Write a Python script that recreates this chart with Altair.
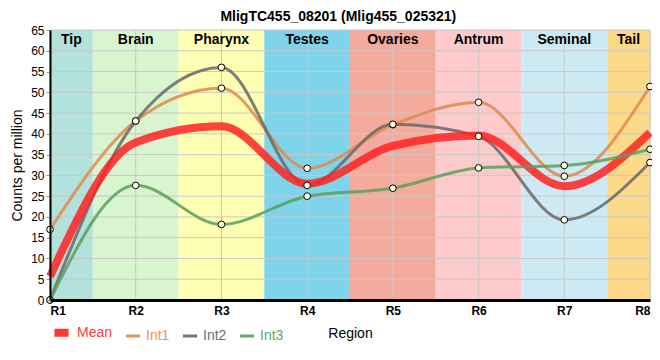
import altair as alt
import pandas as pd

# ---- data ----
positions = [1, 2, 3, 4, 5, 6, 7, 8]
region_labels = ["R1", "R2", "R3", "R4", "R5", "R6", "R7", "R8"]

series_names = ["Int1", "Int2", "Mean", "Int3"]
mean_vals = [5.7, 37.9, 41.8, 28.0, 37.1, 39.6, 27.4, 40.3]
int1_vals = [17.0, 43.1, 51.0, 31.7, 42.2, 47.6, 29.8, 51.4]
int2_vals = [0.0, 43.1, 56.0, 27.6, 42.3, 39.4, 19.3, 33.1]
int3_vals = [0.0, 27.6, 18.2, 25.0, 26.9, 31.8, 32.4, 36.3]

band_names = ["Tip", "Brain", "Pharynx", "Testes", "Ovaries", "Antrum", "Seminal", "Tail"]
band_start = [1.0, 1.5, 2.5, 3.5, 4.5, 5.5, 6.5, 7.5]
band_end = [1.5, 2.5, 3.5, 4.5, 5.5, 6.5, 7.5, 8.0]
band_colors = ["#b3e1dc", "#d9f5d0", "#ffffb3", "#7fd4eb", "#f4ab9d", "#fdcbcb", "#cdeaf4", "#fdd98a"]

y_ticks = [0, 5, 10, 15, 20, 25, 30, 35, 40, 45, 50, 55, 60, 65]

legend_order = ["Mean", "Int1", "Int2", "Int3"]
line_colors = ["#ff2222", "#e0894a", "#686868", "#5aa05a"]
line_widths = [8, 3, 3, 3]

# ---- tables ----
vals = {"Mean": mean_vals, "Int1": int1_vals, "Int2": int2_vals, "Int3": int3_vals}
rows = []
for s in series_names:
    for p, lab, v in zip(positions, region_labels, vals[s]):
        rows.append({"series": s, "pos": p, "region": lab, "value": v})
lines_df = pd.DataFrame(rows)
points_df = lines_df[lines_df["series"] != "Mean"]

bands_df = pd.DataFrame({"name": band_names, "start": band_start, "end": band_end, "color": band_colors})
hgrid_df = pd.DataFrame({"v": y_ticks})
vgrid_df = pd.DataFrame({"p": positions})

xscale = alt.Scale(domain=[1, 8], nice=False, zero=False)
yscale = alt.Scale(domain=[0, 65], nice=False)

x_axis = alt.Axis(values=positions, labelExpr="'R' + datum.value", grid=False,
                  tickSize=0, labelPadding=5, labelFontSize=12, labelFontWeight="bold",
                  labelColor="black", domainColor="black", domainWidth=3,
                  title="Region", titleFontSize=14, titleFontWeight="normal",
                  titlePadding=10, zindex=1, labelFont="Liberation Sans", titleFont="Liberation Sans",
                  labelOverlap=False)
y_axis = alt.Axis(values=y_ticks, grid=False, tickSize=4, tickColor="#999999",
                  labelPadding=2, labelFontSize=12, labelColor="black",
                  domainColor="black", domainWidth=2, labelOverlap=False, labelBound=False,
                  title="Counts per million", titleFontSize=14, titleFontWeight="normal",
                  titlePadding=6, zindex=1, labelFont="Liberation Sans", titleFont="Liberation Sans")

X = lambda f: alt.X(f, scale=xscale, axis=x_axis)
Y = lambda f: alt.Y(f, scale=yscale, axis=y_axis)

bands = alt.Chart(bands_df).mark_rect().encode(
    x=X("start:Q"),
    x2="end:Q",
    y=Y("y0:Q"),
    y2="y1:Q",
    color=alt.Color("color:N", scale=None),
).transform_calculate(y0="0", y1="65")

hgrid = alt.Chart(hgrid_df).mark_rule(color="#c8c8c8", strokeWidth=1).encode(
    y=Y("v:Q")
)
vgrid = alt.Chart(vgrid_df).mark_rule(color="#c8c8c8", strokeWidth=1).encode(
    x=X("p:Q")
)

band_text = alt.Chart(bands_df).mark_text(
    fontSize=14, fontWeight="bold", font="Liberation Sans", color="black", baseline="middle"
).encode(
    x=X("mid:Q"),
    y=alt.value(10),
    text="name:N",
).transform_calculate(mid="(datum.start + datum.end) / 2")

label_color_expr = ("datum.label == 'Mean' ? '#ff3b3b' : datum.label == 'Int1' ? '#e8955a' : "
                    "datum.label == 'Int2' ? '#707070' : '#62a862'")
symbol_width_expr = "datum.label == 'Mean' ? 8 : 3"

legend = alt.Legend(orient="none", legendX=0, legendY=291, direction="horizontal",
                    title=None, symbolType="stroke", symbolSize=200,
                    symbolStrokeWidth=alt.ExprRef(symbol_width_expr),
                    labelFontSize=14, labelFont="Liberation Sans",
                    labelColor=alt.ExprRef(label_color_expr),
                    labelOffset=4, columnPadding=6, symbolOpacity=0.9)

lines = alt.Chart(lines_df).mark_line(interpolate="monotone", opacity=0.85, strokeCap="butt").encode(
    x=X("pos:Q"),
    y=Y("value:Q"),
    color=alt.Color("series:N", scale=alt.Scale(domain=legend_order, range=line_colors), legend=legend),
    strokeWidth=alt.StrokeWidth("series:N",
                                scale=alt.Scale(type="ordinal", domain=legend_order, range=line_widths),
                                legend=None),
    detail="series:N",
)

points = alt.Chart(points_df).mark_point(
    shape="circle", filled=True, fill="#ffffe6", stroke="black", strokeWidth=1, size=45, opacity=1
).encode(
    x=X("pos:Q"),
    y=Y("value:Q"),
)

chart = alt.layer(bands, hgrid, vgrid, band_text, lines, points).properties(
    width=600, height=270,
    title=alt.TitleParams("MligTC455_08201 (Mlig455_025321)", fontSize=14, fontWeight="bold",
                          font="Liberation Sans", anchor="middle", frame="bounds", offset=0),
    autosize=alt.AutoSizeParams(type="none"),
    padding={"left": 42, "top": 22, "right": 2, "bottom": 44},
).configure_view(stroke="black", strokeWidth=1).configure(background="white")

chart.save("out.html", embed_options={"renderer": "svg", "actions": False})
